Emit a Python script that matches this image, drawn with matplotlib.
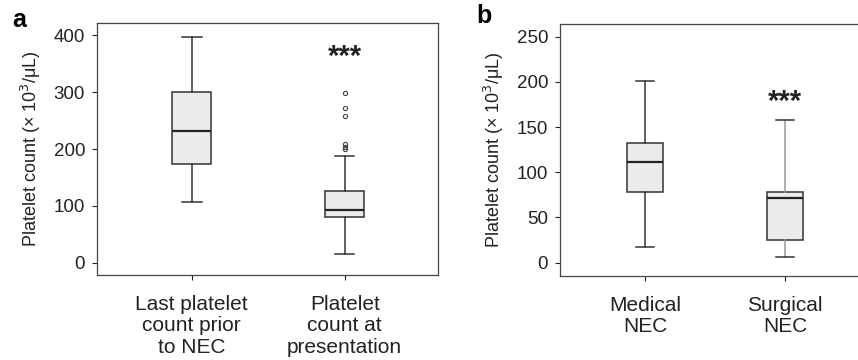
import matplotlib
matplotlib.use("Agg")
import matplotlib.pyplot as plt

# Panel a data (x10^3/uL)
cats_a = ["Last platelet\ncount prior\nto NEC", "Platelet\ncount at\npresentation"]
whislo_a = [107, 15]
q1_a = [174, 80]
med_a = [232, 93]
q3_a = [300, 126]
whishi_a = [398, 188]
fliers_a = [[], [200, 204, 208, 258, 273, 298]]
yticks_a = [0, 100, 200, 300, 400]

# Panel b data
cats_b = ["Medical\nNEC", "Surgical\nNEC"]
whislo_b = [17, 6]
q1_b = [78, 25]
med_b = [111, 71]
q3_b = [132, 78]
whishi_b = [201, 158]
yticks_b = [0, 50, 100, 150, 200, 250]

fig = plt.figure(figsize=(8.58, 3.6), dpi=100)
plt.rcParams['font.family'] = ['Liberation Sans', 'DejaVu Sans']

def make_stats(lo, a, m, b, hi, fl):
    return [dict(whislo=lo[i], q1=a[i], med=m[i], q3=b[i], whishi=hi[i],
                 fliers=fl[i]) for i in range(len(lo))]

def draw(ax, stats, cats, yticks, ylim, xlim, star_y, whisk_colors):
    bp = ax.bxp(stats, positions=[1, 2], widths=0.255, patch_artist=True,
                showfliers=True,
                boxprops=dict(facecolor='#ebebeb', edgecolor='#333333', linewidth=1.1),
                medianprops=dict(color='#222222', linewidth=1.6),
                whiskerprops=dict(color='#333333', linewidth=1.1),
                capprops=dict(color='#333333', linewidth=1.1),
                flierprops=dict(marker='o', markersize=3, markerfacecolor='none',
                                markeredgecolor='#444444', markeredgewidth=0.8))
    for i, c in enumerate(whisk_colors):
        for w in bp['whiskers'][2*i:2*i+2]:
            w.set_color(c)
    ax.set_xlim(*xlim)
    ax.set_ylim(*ylim)
    ax.set_yticks(yticks)
    ax.set_xticks([1, 2])
    ax.set_xticklabels(cats, fontsize=15, color='#222222', linespacing=1.15)
    ax.tick_params(axis='y', labelsize=13.5, length=3.5, width=0.8, colors='#222222', pad=5)
    ax.tick_params(axis='x', length=3.5, width=0.8, colors='#222222', pad=11)
    for s in ax.spines.values():
        s.set_color('#444444')
        s.set_linewidth(0.9)
    ax.set_ylabel("Platelet count (× 10$^3$/μL)", fontsize=13, color='#222222', labelpad=8)
    ax.text(2, star_y, "***", ha='center', va='center', fontsize=21, fontweight='bold',
            color='#222222')

ax1 = fig.add_axes([97/858, 85/360, 341/858, 252/360])
draw(ax1, make_stats(whislo_a, q1_a, med_a, q3_a, whishi_a, fliers_a), cats_a,
     yticks_a, (-22, 422), (0.38, 2.61), 363, ['#333333', '#333333'])
ax1.text(-0.25, 1.01, "a", transform=ax1.transAxes, fontsize=18, fontweight='bold',
         va='center', ha='left')

ax2 = fig.add_axes([560/858, 84.3/360, 310/858, 251.7/360])
draw(ax2, make_stats(whislo_b, q1_b, med_b, q3_b, whishi_b, [[], []]), cats_b,
     yticks_b, (-14.4, 264), (0.393, 2.607), 178, ['#333333', '#999999'])
ax2.text(-0.27, 1.03, "b", transform=ax2.transAxes, fontsize=18, fontweight='bold',
         va='center', ha='left')

fig.savefig("out.png", dpi=100)
